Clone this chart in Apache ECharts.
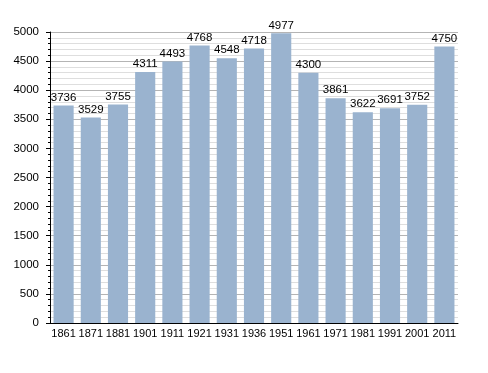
<!DOCTYPE html>
<html><head><meta charset="utf-8">
<script src="https://cdn.jsdelivr.net/npm/echarts@6/dist/echarts.min.js"></script>
<style>html,body{margin:0;padding:0;background:#fff}#c{width:488px;height:373px}</style>
</head><body><div id="c"></div>
<script>
const years = ['1861','1871','1881','1901','1911','1921','1931','1936','1951','1961','1971','1981','1991','2001','2011'];
const population = [3736,3529,3755,4311,4493,4768,4548,4718,4977,4300,3861,3622,3691,3752,4750];
const yTicks = [0,500,1000,1500,2000,2500,3000,3500,4000,4500,5000];

const chart = echarts.init(document.getElementById('c'), null, {renderer:'canvas'});
chart.setOption({
  animation:false,
  grid:{left:50,right:30,top:32,bottom:50},
  xAxis:{
    type:'category', data:years,
    axisLine:{lineStyle:{color:'#000',width:1}},
    axisTick:{show:false},
    axisLabel:{color:'#000',fontFamily:'Liberation Sans',fontSize:11,margin:5,interval:0}
  },
  yAxis:{
    type:'value', min:yTicks[0], max:yTicks[yTicks.length-1], interval:500,
    axisLine:{show:true,lineStyle:{color:'#000',width:1}},
    axisTick:{show:true,inside:false,length:4,lineStyle:{color:'#000'}},
    minorTick:{show:true,splitNumber:5,length:2,lineStyle:{color:'#000'}},
    splitLine:{show:true,lineStyle:{color:'#b4b4b4',width:1}},
    minorSplitLine:{show:true,lineStyle:{color:'#dedede',width:1}},
    axisLabel:{color:'#000',fontFamily:'Liberation Sans',fontSize:11.5,margin:11,formatter:v=>String(v)}
  },
  series:[{
    type:'bar', data:population, barCategoryGap:'26%',
    itemStyle:{color:'#9ab3cf'},
    label:{show:true,position:'top',distance:2,color:'#000',fontFamily:'Liberation Sans',fontSize:11.5}
  }]
});
</script></body></html>
